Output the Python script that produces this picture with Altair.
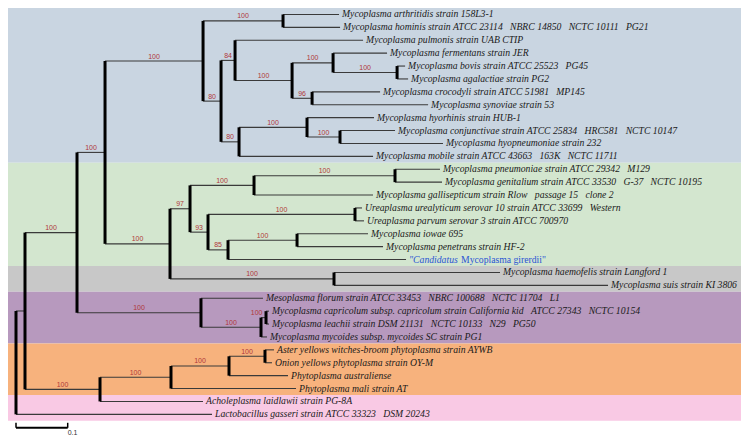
import altair as alt
import pandas as pd

# ---------------- data ----------------
# Tree in Newick form: leaves are indices into LEAF_LABELS, internal labels are bootstrap values
NEWICK = (
    "((((("
    "(0:0.1083,1:0.1103)100:0.1547,"
    "((2:0.2476,((3:0.1044,(4:0.0155,5:0.0213)100:0.1238)100:0.0793,(6:0.1315,7:0.2244)96:0.0387)100:0.1103)84:0.0271,"
    "((8:0.1296,(9:0.1064,10:0.1992)100:0.0638)100:0.1315,11:0.2592)80:0.0348)80:0.0348"
    ")100:0.1896,"
    "((((12:0.0870,13:0.0909)100:0.2727,14:0.2302)100:0.1238,"
    "((15:0.0135,16:0.0174)100:0.2843,((17:0.1373,18:0.1663)100:0.1335,19:0.3443)85:0.0387)93:0.0348)97:0.0387,"
    "(20:0.3211,21:0.5300)100:0.3172)100:0.1257"
    ")100:0.0542,"
    "(22:0.1199,((23:0.0058,24:0.0058)100:0.0097,25:0.0116)100:0.1161)100:0.2398"
    ")100:0.1006,"
    "((((26:0.0174,27:0.0135)100:0.0696,28:0.1141)100:0.1122,29:0.2418)100:0.1373,30:0.1992)100:0.1451"
    "):0.0174,31:0.3791);"
)

LEAF_LABELS = [
    "Mycoplasma arthritidis strain 158L3-1",
    "Mycoplasma hominis strain ATCC 23114  NBRC 14850  NCTC 10111  PG21",
    "Mycoplasma pulmonis strain UAB CTIP",
    "Mycoplasma fermentans strain JER",
    "Mycoplasma bovis strain ATCC 25523  PG45",
    "Mycoplasma agalactiae strain PG2",
    "Mycoplasma crocodyli strain ATCC 51981  MP145",
    "Mycoplasma synoviae strain 53",
    "Mycoplasma hyorhinis strain HUB-1",
    "Mycoplasma conjunctivae strain ATCC 25834  HRC581  NCTC 10147",
    "Mycoplasma hyopneumoniae strain 232",
    "Mycoplasma mobile strain ATCC 43663  163K  NCTC 11711",
    "Mycoplasma pneumoniae strain ATCC 29342  M129",
    "Mycoplasma genitalium strain ATCC 33530  G-37  NCTC 10195",
    "Mycoplasma gallisepticum strain Rlow  passage 15  clone 2",
    "Ureaplasma urealyticum serovar 10 strain ATCC 33699  Western",
    "Ureaplasma parvum serovar 3 strain ATCC 700970",
    "Mycoplasma iowae 695",
    "Mycoplasma penetrans strain HF-2",
    "\"Candidatus Mycoplasma girerdii\"",
    "Mycoplasma haemofelis strain Langford 1",
    "Mycoplasma suis strain KI 3806",
    "Mesoplasma florum strain ATCC 33453  NBRC 100688  NCTC 11704  L1",
    "Mycoplasma capricolum subsp. capricolum strain California kid  ATCC 27343  NCTC 10154",
    "Mycoplasma leachii strain DSM 21131  NCTC 10133  N29  PG50",
    "Mycoplasma mycoides subsp. mycoides SC strain PG1",
    "Aster yellows witches-broom phytoplasma strain AYWB",
    "Onion yellows phytoplasma strain OY-M",
    "Phytoplasma australiense",
    "Phytoplasma mali strain AT",
    "Acholeplasma laidlawii strain PG-8A",
    "Lactobacillus gasseri strain ATCC 33323  DSM 20243",
]
HIGHLIGHT_LEAF = 19
HIGHLIGHT_PARTS = ["\"Candidatus", "Mycoplasma girerdii\""]

BAND_FIRST = [0, 12, 20, 22, 26, 30]
BAND_LAST = [11, 19, 21, 25, 29, 31]
BAND_COLORS = ["#c9d5e1", "#d3e6cf", "#c8c8c8", "#b799be", "#f7b27d", "#f9c9e4"]

SCALE_BAR = [0.0, 0.1]
SCALE_LABEL = "0.1"


# ---------------- tree parsing / layout ----------------
def parse_newick(s):
    pos = 0

    def node():
        nonlocal pos
        n = {"children": [], "name": None, "support": None, "length": 0.0}
        if s[pos] == "(":
            pos += 1
            while True:
                n["children"].append(node())
                if s[pos] == ",":
                    pos += 1
                    continue
                if s[pos] == ")":
                    pos += 1
                    break
        start = pos
        while pos < len(s) and s[pos] not in ":,);":
            pos += 1
        lab = s[start:pos]
        if n["children"]:
            n["support"] = lab if lab else None
        else:
            n["name"] = lab
        if pos < len(s) and s[pos] == ":":
            pos += 1
            start = pos
            while s[pos] not in ",);":
                pos += 1
            n["length"] = float(s[start:pos])
        return n

    return node()


root = parse_newick(NEWICK)
hrows, vrows, srows, lrows = [], [], [], []


def layout(n, depth, parent_depth):
    n["x"] = depth
    if not n["children"]:
        n["y"] = int(n["name"])
    else:
        for c in n["children"]:
            layout(c, depth + c["length"], depth)
        ys = [c["y"] for c in n["children"]]
        n["y"] = (ys[0] + ys[-1]) / 2
        vrows.append({"x": depth, "y": min(ys), "y2": max(ys)})
    if parent_depth is not None:
        hrows.append({"x": parent_depth, "x2": depth, "y": n["y"]})
        if n["support"]:
            srows.append({"xm": (parent_depth + depth) / 2, "xp": parent_depth,
                          "y": n["y"], "t": n["support"],
                          "short": (depth - parent_depth) < 0.02})
    if not n["children"]:
        idx = int(n["name"])
        lrows.append({"x": depth, "y": idx,
                      "label": LEAF_LABELS[idx].replace("  ", " \u00a0\u00a0"),
                      "hl": idx == HIGHLIGHT_LEAF})


layout(root, 0.0, None)

hdf = pd.DataFrame(hrows)
vdf = pd.DataFrame(vrows)
sdf = pd.DataFrame(srows)
ldf = pd.DataFrame(lrows)
bdf = pd.DataFrame({"y": [f - 0.5 for f in BAND_FIRST],
                    "y2": [l + 0.5 for l in BAND_LAST],
                    "c": BAND_COLORS})
hl = ldf[ldf["hl"]].iloc[0]
gdf = pd.DataFrame({"x": [hl["x"]], "y": [hl["y"]]})
scdf = pd.DataFrame({"x": [SCALE_BAR[0]], "x2": [SCALE_BAR[1]], "t": [SCALE_LABEL]})

# ---------------- scales ----------------
W, H = 733, 430
PX_PER_UNIT = 517.0
xs = alt.Scale(domain=[-8 / PX_PER_UNIT, (W - 8) / PX_PER_UNIT], nice=False, zero=False)
ROW = 12.9
ys = alt.Scale(domain=[-0.5, -0.5 + H / ROW], nice=False, zero=False, reverse=True)
BAR_Y = 32 * ROW + 7
FS = 9.7

X = lambda f: alt.X(f, type="quantitative", scale=xs, axis=None)
Y = lambda f: alt.Y(f, type="quantitative", scale=ys, axis=None)

bands = alt.Chart(bdf).mark_rect().encode(
    x=alt.value(0), x2=alt.value(W), y=Y("y"), y2="y2",
    color=alt.Color("c:N", scale=None))

hlines = alt.Chart(hdf).mark_rule(color="#3a3a3a", strokeWidth=1.1).encode(
    x=X("x"), x2="x2", y=Y("y"))

vlines = alt.Chart(vdf).mark_rule(color="#000000", strokeWidth=3).encode(
    x=X("x"), y=Y("y"), y2="y2")

leaf_text = alt.Chart(ldf[~ldf["hl"]]).mark_text(
    align="left", baseline="middle", dx=3, font="Liberation Serif",
    fontStyle="italic", fontSize=FS, color="#1a1a1a").encode(
    x=X("x"), y=Y("y"), text="label:N")

hl_a = alt.Chart(gdf).mark_text(
    align="left", baseline="middle", dx=3, font="Liberation Serif",
    fontStyle="italic", fontSize=FS, color="#2a55d4").encode(
    x=X("x"), y=Y("y"), text=alt.value(HIGHLIGHT_PARTS[0]))
hl_b = alt.Chart(gdf).mark_text(
    align="left", baseline="middle", dx=3 + 52, font="Liberation Serif",
    fontSize=FS, color="#2a55d4").encode(
    x=X("x"), y=Y("y"), text=alt.value(HIGHLIGHT_PARTS[1]))

sup = alt.Chart(sdf[~sdf["short"]]).mark_text(
    align="center", baseline="bottom", dy=-1.5, font="Liberation Sans",
    fontSize=7, color="#b0383a").encode(
    x=X("xm"), y=Y("y"), text="t:N")
sup_short = alt.Chart(sdf[sdf["short"]]).mark_text(
    align="right", baseline="bottom", dy=-1.5, dx=1.5, font="Liberation Sans",
    fontSize=7, color="#b0383a").encode(
    x=X("xp"), y=Y("y"), text="t:N")

sbar = alt.Chart(scdf).mark_rule(color="#000", strokeWidth=2).encode(
    x=X("x"), x2="x2", y=alt.value(BAR_Y))
stick_l = alt.Chart(scdf).mark_rule(color="#000", strokeWidth=1.5).encode(
    x=X("x"), y=alt.value(BAR_Y - 5), y2=alt.value(BAR_Y))
stick_r = alt.Chart(scdf).mark_rule(color="#000", strokeWidth=1.5).encode(
    x=X("x2"), y=alt.value(BAR_Y - 5), y2=alt.value(BAR_Y))
slabel = alt.Chart(scdf).mark_text(
    align="left", baseline="top", dx=0, dy=1, font="Liberation Sans",
    fontSize=7, color="#333").encode(
    x=X("x2"), y=alt.value(BAR_Y), text="t:N")

chart = alt.layer(
    bands, hlines, vlines, leaf_text, hl_a, hl_b, sup, sup_short,
    sbar, stick_l, stick_r, slabel
).properties(
    width=W, height=H, padding=0,
    autosize=alt.AutoSizeParams(type="none"),
    background="white",
).configure_view(stroke=None)

chart.save("out.html", embed_options={"renderer": "svg", "actions": False})
